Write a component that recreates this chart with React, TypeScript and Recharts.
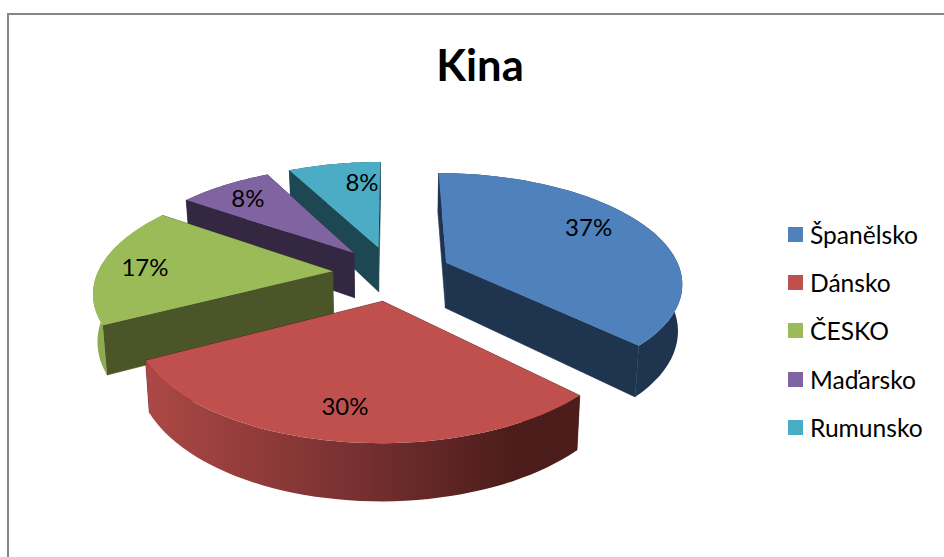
import { PieChart, Pie, Legend } from "recharts";

// Legend order, clockwise from 12 o'clock in the picture
const countries = ["Španělsko", "Dánsko", "ČESKO", "Maďarsko", "Rumunsko"];
const shares = [37.45, 29.85, 17.4, 7.7, 7.6];

const TOP_COLORS: Record<string, string> = {
  "Španělsko": "#4F81BD",
  "Dánsko": "#C0504D",
  "ČESKO": "#9BBB59",
  "Maďarsko": "#8064A2",
  "Rumunsko": "#4BACC6",
};

const WALL_COLORS: Record<string, string> = {
  "Španělsko": "#1F344F",
  "Dánsko": "#4D1D1B",
  "ČESKO": "#4A5628",
  "Maďarsko": "#332741",
  "Rumunsko": "#1D4753",
};

const RIM_COLORS: Record<string, string> = {
  "Španělsko": "#1F344F",
  "Dánsko": "url(#redRim)",
  "ČESKO": "#8FAB52",
  "Maďarsko": "#332741",
  "Rumunsko": "#1D4753",
};

// Small shifts of the percent labels, the original does not centre them
const LABEL_NUDGE: Record<string, number[]> = {
  "Španělsko": [-8, -8],
  "Dánsko": [-5, 4],
  "ČESKO": [-14, 0],
  "Maďarsko": [-6, -3],
  "Rumunsko": [18, -1],
};

// Counter-clockwise from the top, so the front slices paint over the back ones
const data = countries
  .map((name, i) => ({ name, value: shares[i] }))
  .reverse();

const FONT = "Lato, 'Noto Sans', sans-serif";
const SQUASH = 0.458; // vertical flattening of the disc
const PERSPECTIVE = 0.167;
const EXPLODE = 0.254;
const DEPTH = 46;

// Disc coordinates (unit radius, v toward the viewer) to the screen
function project(cx: number, cy: number, r: number, u: number, v: number, z = 0) {
  const k = 1 / (1 - PERSPECTIVE * v);
  const lean = 1 - 0.015 * z;
  return [cx + r * u * k * lean, cy + r * SQUASH * v * k + z * DEPTH * k];
}

const rad = (deg: number) => (deg * Math.PI) / 180;

function toPath(points: number[][]) {
  return (
    points
      .map((p, i) => `${i ? "L" : "M"}${p[0].toFixed(1)},${p[1].toFixed(1)}`)
      .join(" ") + " Z"
  );
}

function Slice(props: any) {
  const { cx, cy, outerRadius: r, startAngle, endAngle, name } = props;
  const mid = rad((startAngle + endAngle) / 2);
  const ou = Math.cos(mid) * EXPLODE;
  const ov = -Math.sin(mid) * EXPLODE;

  const at = (deg: number, z = 0) =>
    project(cx, cy, r, ou + Math.cos(rad(deg)), ov - Math.sin(rad(deg)), z);
  const apex = (z = 0) => project(cx, cy, r, ou, ov, z);

  const arc: number[] = [];
  for (let i = 0; i <= 48; i++) {
    arc.push(startAngle + ((endAngle - startAngle) * i) / 48);
  }

  const top = [apex(), ...arc.map((a) => at(a))];
  const rim = [...arc.map((a) => at(a)), ...arc.slice().reverse().map((a) => at(a, 1))];
  const faceA = [apex(), at(startAngle), at(startAngle, 1), apex(1)];
  const faceB = [apex(), at(endAngle), at(endAngle, 1), apex(1)];
  const wall = WALL_COLORS[name];

  return (
    <g>
      <path d={toPath(faceA)} fill={wall} stroke={wall} strokeWidth={0.6} />
      <path d={toPath(faceB)} fill={wall} stroke={wall} strokeWidth={0.6} />
      <path d={toPath(rim)} fill={RIM_COLORS[name]} />
      <path d={toPath(top)} fill={TOP_COLORS[name]} />
    </g>
  );
}

function sliceLabel(props: any) {
  const { cx, cy, outerRadius: r, midAngle, percent, name } = props;
  const m = rad(midAngle);
  const [x, y] = project(
    cx,
    cy,
    r,
    Math.cos(m) * (EXPLODE + 0.75),
    -Math.sin(m) * (EXPLODE + 0.75)
  );
  const nudge = LABEL_NUDGE[name] || [0, 0];
  return (
    <text
      x={x + nudge[0]}
      y={y + nudge[1]}
      fill="#000"
      fontSize={24}
      fontFamily={FONT}
      textAnchor="middle"
      dominantBaseline="central"
    >
      {Math.round(percent * 100)}%
    </text>
  );
}

function CountryLegend() {
  return (
    <div>
      {countries.map((name) => (
        <div
          key={name}
          style={{
            display: "flex",
            alignItems: "center",
            height: 48.3,
            fontFamily: FONT,
            fontSize: 24.6,
            color: "#000",
          }}
        >
          <span
            style={{
              width: 15,
              height: 15,
              marginRight: 7,
              backgroundColor: TOP_COLORS[name],
            }}
          />
          <span>{name}</span>
        </div>
      ))}
    </div>
  );
}

export default function App() {
  return (
    <div
      style={{
        position: "absolute",
        left: 0,
        top: 0,
        width: 944,
        height: 557,
        overflow: "hidden",
        background: "#fff",
      }}
    >
      <div
        style={{
          position: "absolute",
          left: 7,
          top: 13,
          width: 960,
          height: 560,
          borderLeft: "2px solid #868686",
          borderTop: "2px solid #868686",
        }}
      />
      <PieChart width={944} height={557} margin={{ top: 0, right: 0, bottom: 0, left: 0 }}>
        <defs>
          <linearGradient id="redRim" gradientUnits="userSpaceOnUse" x1={147} y1={0} x2={574} y2={0}>
            <stop offset="0" stopColor="#AC4845" />
            <stop offset="0.5" stopColor="#763030" />
            <stop offset="0.85" stopColor="#4D1D1B" />
            <stop offset="1" stopColor="#4D1D1B" />
          </linearGradient>
        </defs>
        <text
          x={480}
          y={64}
          textAnchor="middle"
          dominantBaseline="central"
          fontFamily={FONT}
          fontWeight={700}
          fontSize={43.5}
          fill="#000"
        >
          Kina
        </text>
        <Pie
          data={data}
          dataKey="value"
          nameKey="name"
          cx={392}
          cy={273}
          outerRadius={235}
          startAngle={90}
          endAngle={450}
          stroke="none"
          shape={Slice}
          label={sliceLabel}
          labelLine={false}
          isAnimationActive={false}
        />
        <Legend
          content={CountryLegend}
          wrapperStyle={{ position: "absolute", left: 788, top: 210, width: 156, bottom: "auto" }}
        />
      </PieChart>
    </div>
  );
}
